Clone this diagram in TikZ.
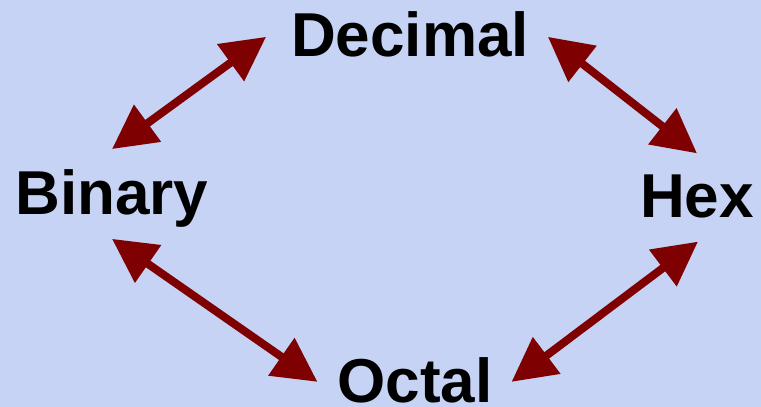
\documentclass[tikz,border=0pt]{standalone}
\usepackage{fontspec}
\setmainfont{Liberation Sans}
\usetikzlibrary{arrows.meta,calc}
\definecolor{cMAR}{HTML}{7F0000}
\definecolor{cBG}{HTML}{C6D3F5}

\begin{document}
\begin{tikzpicture}[x=1pt, y=-1pt,
  base/.style={inner sep=0pt, outer sep=0pt, anchor=base, font=\fontsize{62}{70}\selectfont\bfseries},
  conv/.style={cMAR, line width=8pt, {Triangle[length=44pt,width=44pt]}-{Triangle[length=44pt,width=44pt]}}]
\fill[cBG] (0,0) rectangle (761,407);
\useasboundingbox (0,0) rectangle (761,407);
\node[base] (dec) at (410,56) {Decimal};
\node[base] (bin) at (112,214) {Binary};
\node[base] (hex) at (697,217) {Hex};
\node[base] (oct) at (415,402) {Octal};
\draw[conv] ($(bin.north)+(0,-20)$) -- ($(dec.west)+(-25,3)$);
\draw[conv] ($(dec.east)+(19,3)$) -- ($(hex.north)+(0,-21)$);
\draw[conv] ($(bin.south)+(0,12)$) -- ($(oct.west)+(-20,2)$);
\draw[conv] ($(hex.south)+(1,24)$) -- ($(oct.east)+(19,2)$);
\end{tikzpicture}
\end{document}
